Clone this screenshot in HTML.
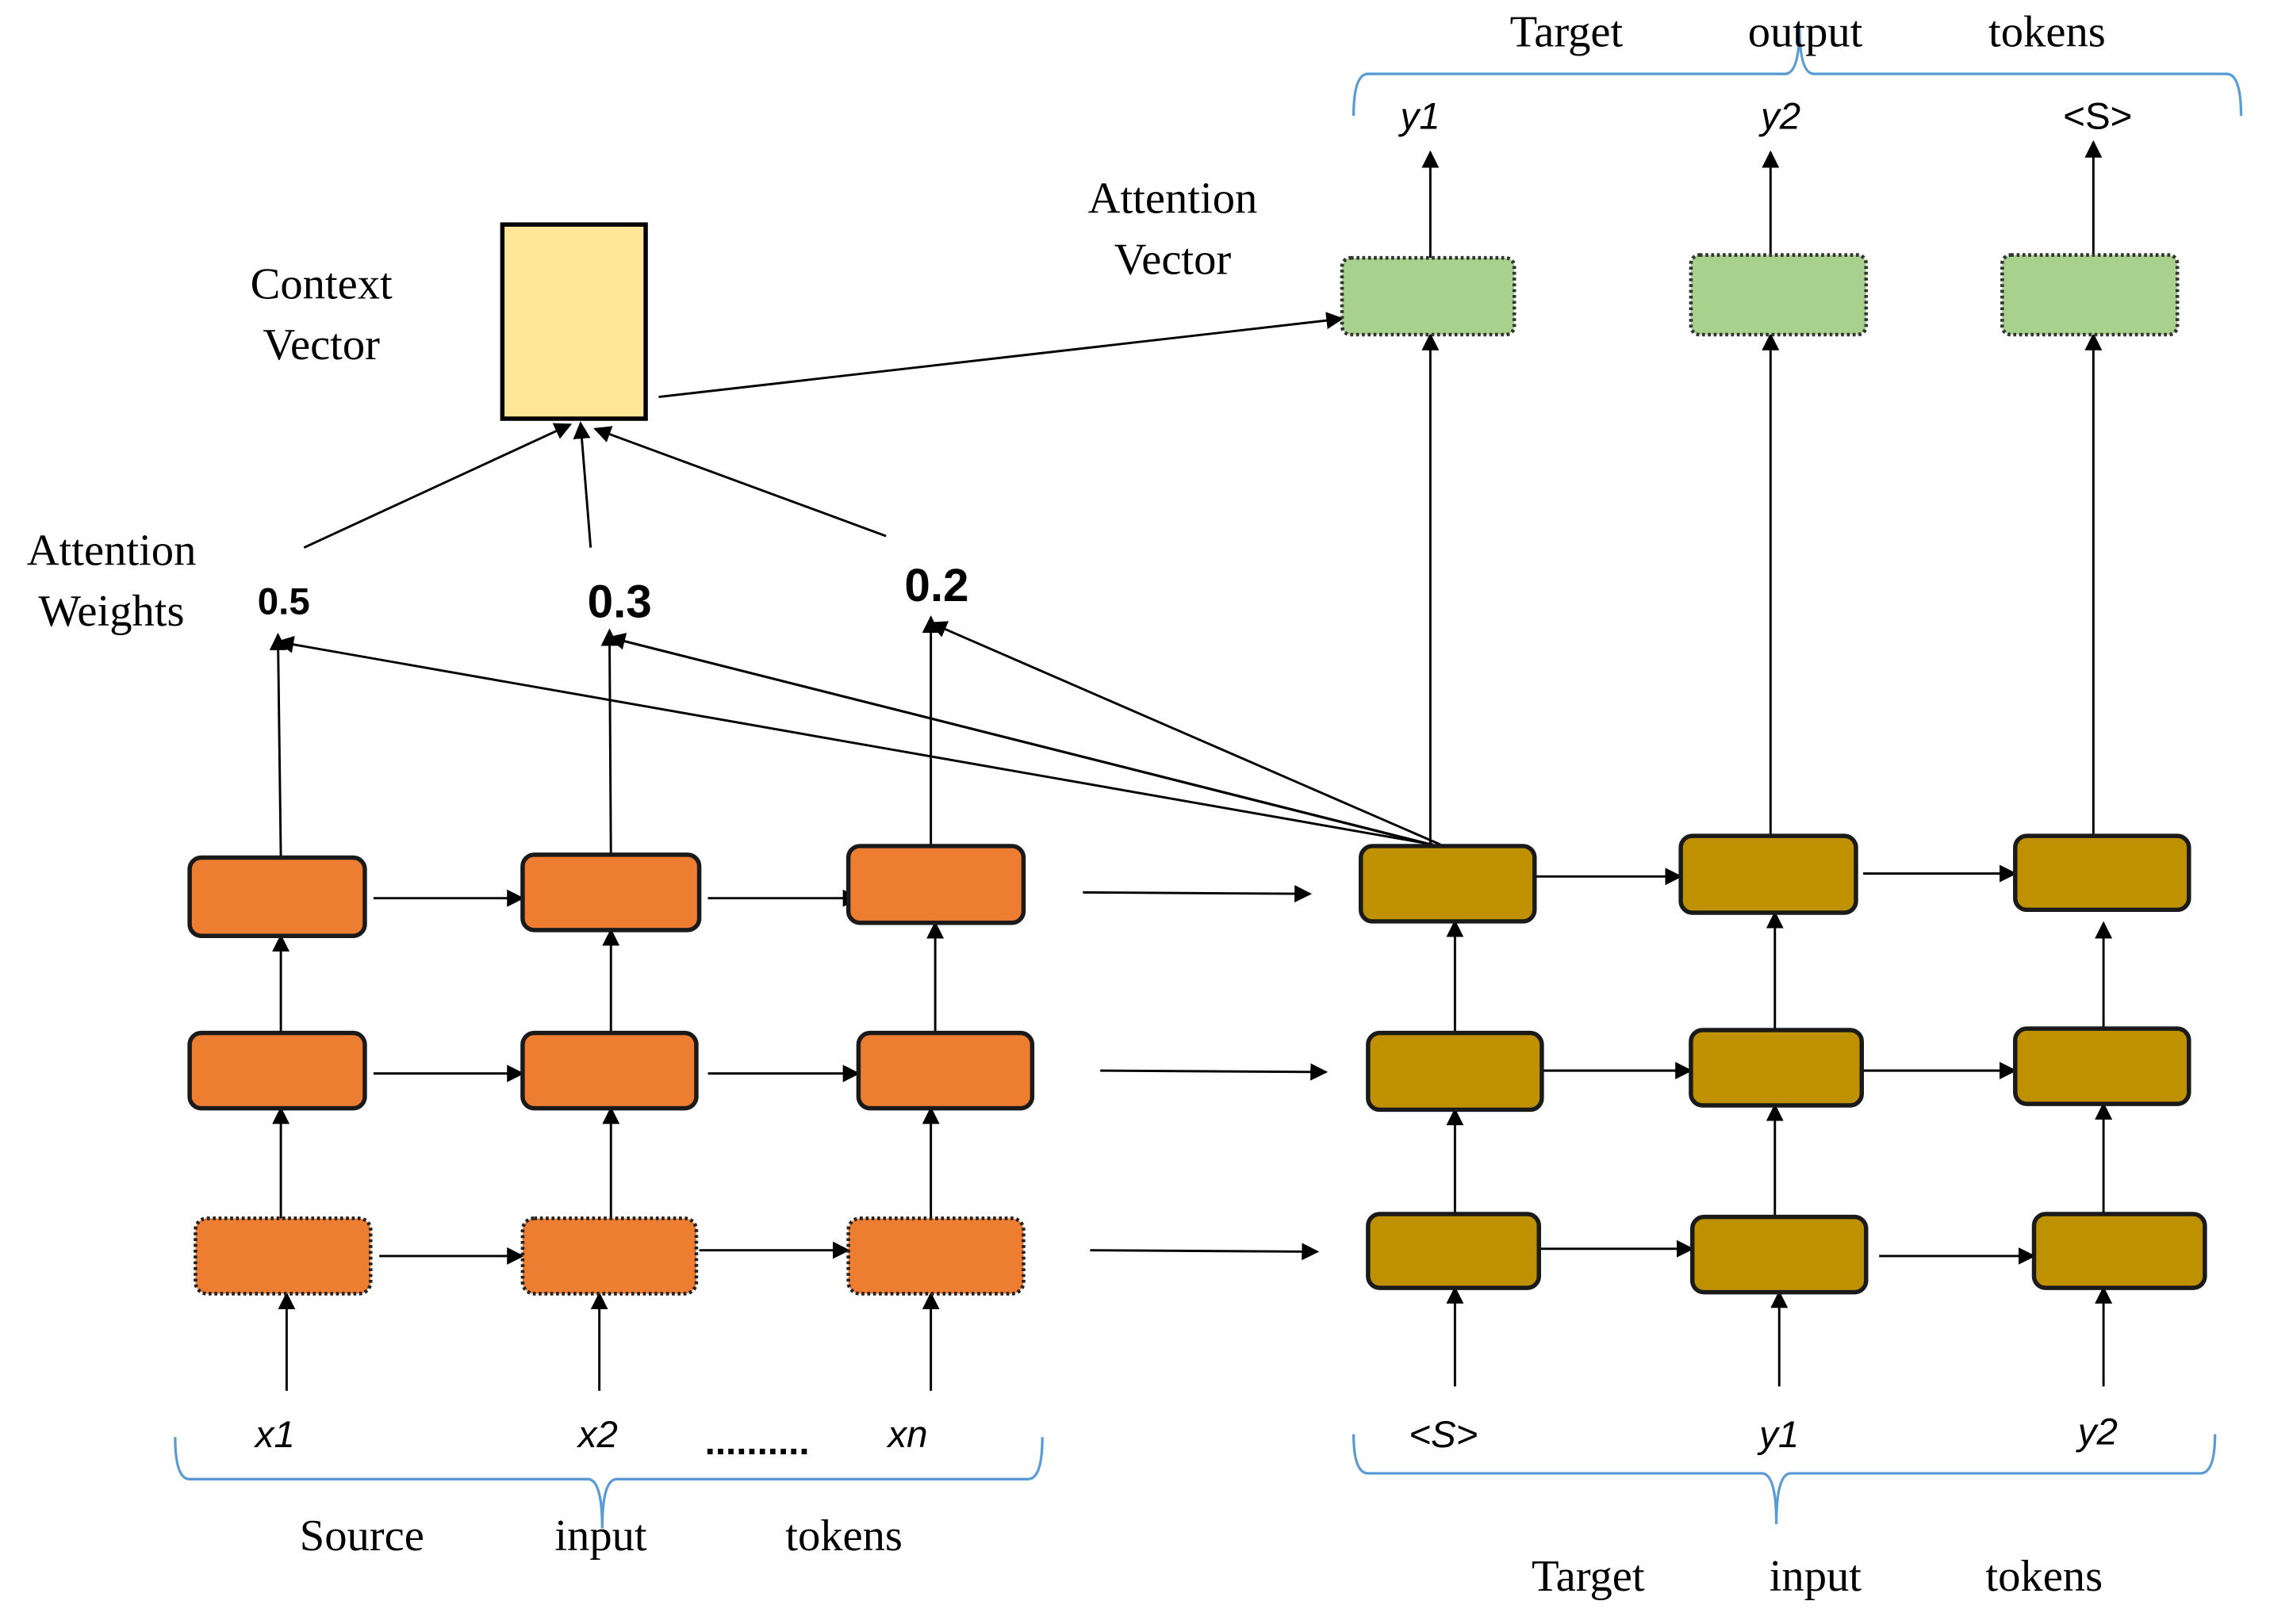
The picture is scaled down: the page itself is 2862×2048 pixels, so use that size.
<!DOCTYPE html>
<html><head><meta charset="utf-8"><style>
html,body{margin:0;padding:0;background:#fff;}
svg{display:block;}
.serif{font-family:"Liberation Serif",serif;font-size:31px;fill:#000;}
.it{font-family:"Liberation Sans",sans-serif;font-style:italic;font-size:26px;fill:#000;}
.num{font-family:"Liberation Sans",sans-serif;font-weight:bold;fill:#000;}
</style></head><body>
<svg width="2862" height="2048" viewBox="0 0 1568 1121" preserveAspectRatio="none" xmlns="http://www.w3.org/2000/svg">
<defs>
<marker id="b" viewBox="0 0 10 10" refX="9" refY="5" markerWidth="12" markerHeight="12" orient="auto" markerUnits="userSpaceOnUse">
<path d="M0,0 L10,5 L0,10 z" fill="#000"/></marker>
</defs>
<g stroke="#000" stroke-width="1.6" fill="none" marker-end="url(#b)">
<line x1="210" y1="378" x2="394" y2="293"/>
<line x1="408" y1="378" x2="401" y2="292"/>
<line x1="612" y1="370" x2="411" y2="296"/>
<line x1="455" y1="274" x2="927" y2="220"/>
<line x1="990" y1="583" x2="192" y2="443"/>
<line x1="985" y1="582" x2="421" y2="440"/>
<line x1="980" y1="581" x2="421" y2="440" marker-end="none"/>
<line x1="995" y1="583" x2="643" y2="430"/>
<line x1="194" y1="592" x2="192" y2="438"/>
<line x1="422" y1="592" x2="421" y2="435"/>
<line x1="643" y1="584" x2="643" y2="426"/>
<line x1="194" y1="713" x2="194" y2="646"/>
<line x1="422" y1="713" x2="422" y2="642"/>
<line x1="646" y1="713" x2="646" y2="637"/>
<line x1="194" y1="841" x2="194" y2="765"/>
<line x1="422" y1="841" x2="422" y2="765"/>
<line x1="643" y1="841" x2="643" y2="765"/>
<line x1="198" y1="960" x2="198" y2="893"/>
<line x1="414" y1="960" x2="414" y2="893"/>
<line x1="643" y1="960" x2="643" y2="893"/>
<line x1="258" y1="620" x2="361" y2="620"/>
<line x1="489" y1="620" x2="593" y2="620"/>
<line x1="258" y1="741" x2="361" y2="741"/>
<line x1="489" y1="741" x2="593" y2="741"/>
<line x1="262" y1="867" x2="361" y2="867"/>
<line x1="483" y1="863" x2="586" y2="863"/>
<line x1="748" y1="616" x2="905" y2="617"/>
<line x1="760" y1="739" x2="916" y2="740"/>
<line x1="753" y1="863" x2="910" y2="864"/>
<line x1="1060" y1="605" x2="1161" y2="605"/>
<line x1="1287" y1="603" x2="1392" y2="603"/>
<line x1="1065" y1="739" x2="1168" y2="739"/>
<line x1="1286" y1="739" x2="1392" y2="739"/>
<line x1="1063" y1="862" x2="1169" y2="862"/>
<line x1="1298" y1="867" x2="1405" y2="867"/>
<line x1="1005" y1="713" x2="1005" y2="636"/>
<line x1="1226" y1="711" x2="1226" y2="630"/>
<line x1="1453" y1="710" x2="1453" y2="637"/>
<line x1="1005" y1="838" x2="1005" y2="766"/>
<line x1="1226" y1="840" x2="1226" y2="763"/>
<line x1="1453" y1="838" x2="1453" y2="762"/>
<line x1="1005" y1="957" x2="1005" y2="889"/>
<line x1="1229" y1="957" x2="1229" y2="892"/>
<line x1="1453" y1="957" x2="1453" y2="889"/>
<line x1="988" y1="583" x2="988" y2="231"/>
<line x1="1223" y1="577" x2="1223" y2="231"/>
<line x1="1446" y1="577" x2="1446" y2="231"/>
<line x1="988" y1="178" x2="988" y2="105"/>
<line x1="1223" y1="176" x2="1223" y2="105"/>
<line x1="1446" y1="176" x2="1446" y2="98"/>
</g>
<rect x="347" y="155" width="99" height="134" fill="#FFE699" stroke="#000" stroke-width="3"/>
<g fill="#A9D18E" stroke="#333" stroke-width="2.5" stroke-dasharray="2 2">
<rect x="927" y="178" width="119" height="53" rx="6"/>
<rect x="1168" y="176" width="121" height="55" rx="6"/>
<rect x="1383" y="176" width="121" height="55" rx="6"/>
</g>
<g fill="#ED7D31" stroke="#1a1a1a" stroke-width="3">
<rect x="131" y="592" width="121" height="54" rx="8"/>
<rect x="361" y="590" width="122" height="52" rx="8"/>
<rect x="586" y="584" width="121" height="53" rx="8"/>
<rect x="131" y="713" width="121" height="52" rx="8"/>
<rect x="361" y="713" width="120" height="52" rx="8"/>
<rect x="593" y="713" width="120" height="52" rx="8"/>
</g>
<g fill="#ED7D31" stroke="#222" stroke-width="2.5" stroke-dasharray="2 2">
<rect x="135" y="841" width="121" height="52" rx="8"/>
<rect x="361" y="841" width="120" height="52" rx="8"/>
<rect x="586" y="841" width="121" height="52" rx="8"/>
</g>
<g fill="#BF9000" stroke="#1a1a1a" stroke-width="3">
<rect x="940" y="584" width="120" height="52" rx="8"/>
<rect x="1161" y="577" width="121" height="53" rx="8"/>
<rect x="1392" y="577" width="120" height="51" rx="8"/>
<rect x="945" y="713" width="120" height="53" rx="8"/>
<rect x="1168" y="711" width="118" height="52" rx="8"/>
<rect x="1392" y="710" width="120" height="52" rx="8"/>
<rect x="945" y="838" width="118" height="51" rx="8"/>
<rect x="1169" y="840" width="120" height="52" rx="8"/>
<rect x="1405" y="838" width="118" height="51" rx="8"/>
</g>
<g fill="none" stroke="#5B9BD5" stroke-width="1.8">
<path d="M935,80 Q935,51 945,51 L1233,51 Q1243,51 1243,18 Q1243,51 1253,51 L1538,51 Q1548,51 1548,80"/>
<path d="M121,992 Q121,1021 131,1021 L406,1021 Q416,1021 416,1055 Q416,1021 426,1021 L710,1021 Q720,1021 720,992"/>
<path d="M935,990 Q935,1017 945,1017 L1217,1017 Q1227,1017 1227,1052 Q1227,1017 1237,1017 L1520,1017 Q1530,1017 1530,990"/>
</g>
<g class="serif" text-anchor="middle">
<text x="1082" y="32">Target</text>
<text x="1247" y="32">output</text>
<text x="1414" y="32">tokens</text>
<text x="222" y="206">Context</text>
<text x="222" y="248">Vector</text>
<text x="810" y="147">Attention</text>
<text x="810" y="189">Vector</text>
<text x="77" y="390">Attention</text>
<text x="77" y="432">Weights</text>
<text x="250" y="1070">Source</text>
<text x="415" y="1070">input</text>
<text x="583" y="1070">tokens</text>
<text x="1097" y="1098">Target</text>
<text x="1254" y="1098">input</text>
<text x="1412" y="1098">tokens</text>
</g>
<g class="num" text-anchor="middle">
<text x="196" y="424" font-size="26">0.5</text>
<text x="428" y="426" font-size="32">0.3</text>
<text x="647" y="415" font-size="32">0.2</text>
</g>
<g class="it" text-anchor="middle">
<text x="981" y="89">y1</text>
<text x="1230" y="89">y2</text>
<text x="1449" y="89" font-style="normal">&lt;S&gt;</text>
<text x="190" y="999">x1</text>
<text x="413" y="999">x2</text>
<text x="627" y="999">xn</text>
<text x="997" y="999">&lt;S&gt;</text>
<text x="1229" y="999">y1</text>
<text x="1449" y="997">y2</text>
</g>
<text x="523" y="1004" text-anchor="middle" font-family="Liberation Sans,sans-serif" font-size="26" font-weight="bold">..........</text>
</svg>
</body></html>
